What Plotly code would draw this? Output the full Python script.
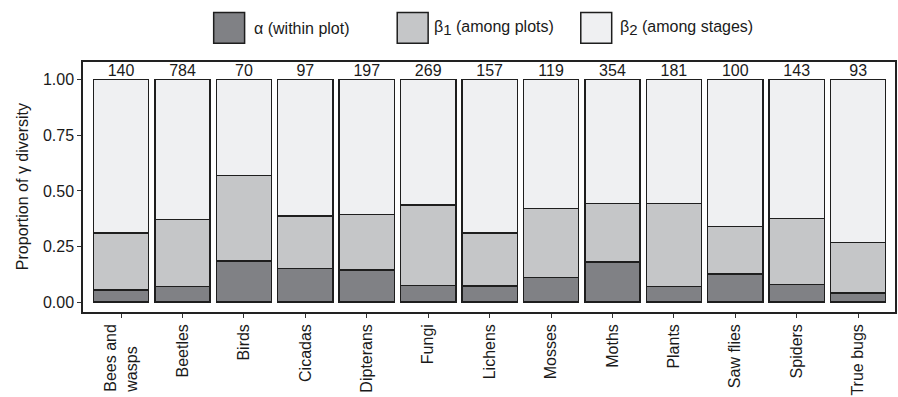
import plotly.graph_objects as go

# Taxonomic groups and their diversity partition (proportion of gamma diversity)
groups = ["Bees and<br>wasps\u00a0\u00a0\u00a0\u00a0\u00a0", "Beetles", "Birds", "Cicadas", "Dipterans", "Fungi",
          "Lichens", "Mosses", "Moths", "Plants", "Saw flies", "Spiders", "True bugs"]
alpha = [0.055, 0.071, 0.185, 0.151, 0.144, 0.075, 0.073, 0.110, 0.181, 0.071, 0.126, 0.079, 0.041]
beta1 = [0.256, 0.301, 0.384, 0.237, 0.249, 0.362, 0.238, 0.311, 0.263, 0.373, 0.215, 0.297, 0.226]
beta2 = [0.689, 0.628, 0.431, 0.612, 0.607, 0.563, 0.689, 0.579, 0.556, 0.556, 0.659, 0.624, 0.733]
n_species = [140, 784, 70, 97, 197, 269, 157, 119, 354, 181, 100, 143, 93]
y_ticks = [0.0, 0.25, 0.5, 0.75, 1.0]
y_tick_text = ["0.00", "0.25", "0.50", "0.75", "1.00"]

sub = "<sub><span style='font-size:15px'>{}</span></sub>"
labels = ["α (within plot)", "β" + sub.format(1) + " (among plots)", "β" + sub.format(2) + " (among stages)"]
fills = ["#808185", "#c5c6c8", "#eff0f2"]
outline = "#1e1e1e"
FONT = "Liberation Sans, Arial, Helvetica, sans-serif"

fig = go.Figure()
for vals, name, col in zip([alpha, beta1, beta2], labels, fills):
    fig.add_trace(go.Bar(
        x=groups, y=vals, name=name, width=0.9,
        marker=dict(color=col, line=dict(color=outline, width=1.4)),
        showlegend=False,
    ))

# species counts above each bar
totals = [a + b + c for a, b, c in zip(alpha, beta1, beta2)]
fig.add_trace(go.Scatter(
    x=groups, y=totals, mode="text", text=[str(n) for n in n_species],
    textposition="top center", textfont=dict(size=16, color="#1a1a1a", family=FONT),
    cliponaxis=False, showlegend=False, hoverinfo="skip",
))

# plot area in pixels
W, H = 898, 397
L, R, T, B = 83, 897, 62, 315
pw, ph = R - L, B - T


def px(x):
    return (x - L) / pw


def py(y):
    return (B - y) / ph


shapes = []
annotations = []
# legend along the top
legend_items = [(214, 252), (398, 433), (582, 619)]
for (kx, tx), name, col in zip(legend_items, labels, fills):
    shapes.append(dict(type="rect", xref="paper", yref="paper",
                       x0=px(kx), x1=px(kx + 31), y0=py(43), y1=py(12),
                       fillcolor=col, line=dict(color=outline, width=1.5)))
    annotations.append(dict(xref="paper", yref="paper", x=px(tx), y=py(28),
                            text=name, showarrow=False, xanchor="left", yanchor="middle",
                            font=dict(size=16, color="#1a1a1a", family=FONT)))

annotations.append(dict(xref="paper", yref="paper", x=px(22), y=0.5,
                        text="Proportion of γ diversity", textangle=-90, showarrow=False,
                        xanchor="center", yanchor="middle",
                        font=dict(size=16, color="#1a1a1a", family=FONT)))

fig.update_layout(
    width=W, height=H,
    margin=dict(l=L, r=W - R, t=T, b=H - B, pad=0),
    barmode="stack", bargap=0.1,
    plot_bgcolor="white", paper_bgcolor="white",
    font=dict(family=FONT, size=16, color="#1a1a1a"),
    shapes=shapes, annotations=annotations,
)
fig.update_xaxes(
    range=[-0.62, 12.6], tickangle=-90, ticks="outside", ticklen=4, tickwidth=1,
    tickcolor="#333333", showline=True, mirror=True, linecolor="#222222", linewidth=1.5,
    showgrid=False, tickfont=dict(size=16, color="#1a1a1a", family=FONT),
)
fig.update_yaxes(
    range=[-0.0444, 1.08], tickvals=y_ticks, ticktext=y_tick_text, ticks="outside",
    ticklen=4, tickwidth=1, tickcolor="#333333", showline=True, mirror=True,
    linecolor="#222222", linewidth=1.5, showgrid=False, zeroline=False,
    tickfont=dict(size=16, color="#1a1a1a", family=FONT),
)

fig.write_html("out.html")
